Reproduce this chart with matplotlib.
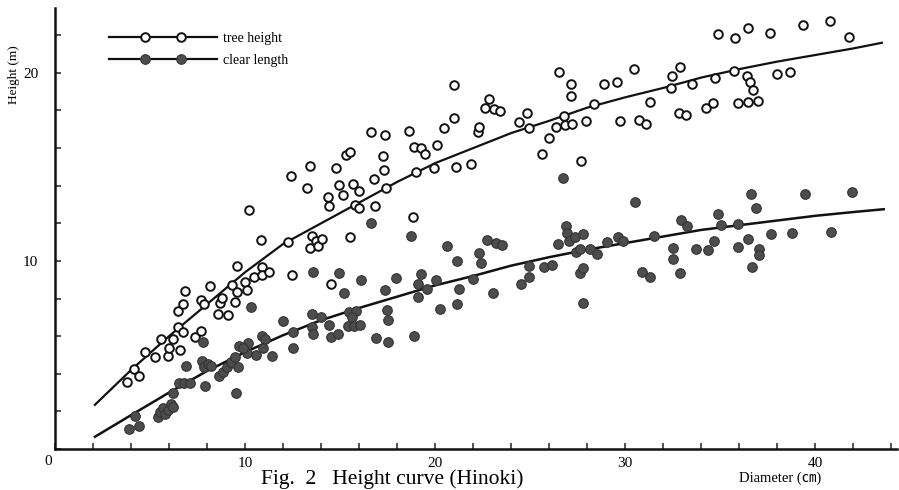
import numpy as np
import matplotlib
matplotlib.use("Agg")
import matplotlib.pyplot as plt
from matplotlib.lines import Line2D
from matplotlib.legend_handler import HandlerLine2D
from matplotlib.ticker import MultipleLocator

plt.rcParams["font.family"] = ["Liberation Serif", "Noto Sans CJK JP", "DejaVu Sans"]

# tree height (open circles): diameter (cm), height (m)
th_d = [3.81, 4.16, 4.44, 4.75, 5.28, 5.58, 5.95, 5.98, 6.21, 6.47, 6.56, 6.72, 6.49, 6.75,
        6.84, 7.37, 7.67, 7.67, 7.86, 8.14, 8.59, 8.70, 8.81, 9.09, 9.32, 9.49, 9.59, 9.59,
        9.98, 10.09, 10.46, 10.21, 10.84, 10.88, 10.91, 11.28,
        12.26, 12.40, 12.46, 13.25, 13.39, 13.44, 13.51, 13.72, 13.83, 14.04, 14.37, 14.39,
        14.51, 14.77, 14.93, 15.16, 15.30, 15.51, 15.53, 15.67, 15.81, 15.98, 15.98, 16.62,
        16.79, 16.83, 17.28, 17.30, 17.35, 17.42, 18.65, 18.81, 18.89, 19.00, 19.28, 19.49,
        19.93, 20.11, 20.49, 20.98, 21.00, 21.11, 21.91, 22.23, 22.30, 22.63, 22.84, 23.11,
        23.40,
        24.42, 24.84, 24.95, 25.61, 26.00, 26.38, 26.54, 26.77, 26.84, 27.14, 27.14, 27.19,
        27.68, 27.93, 28.38, 28.89, 29.58, 29.74, 30.47, 30.74, 31.12, 31.33, 32.42, 32.44,
        32.81, 32.88, 33.21, 33.54, 34.23, 34.61, 34.75,
        34.89, 35.77, 36.46, 37.60, 39.38, 40.77, 41.77, 35.74, 36.40, 36.58, 36.72, 38.00,
        38.65, 35.95, 36.46, 37.00]
th_h = [3.58, 4.26, 3.88, 5.14, 4.89, 5.85, 4.93, 5.39, 5.87, 6.49, 5.27, 6.24, 7.32, 7.71,
        8.40, 5.94, 6.29, 7.93, 7.71, 8.67, 7.18, 7.75, 8.02, 7.13, 8.72, 7.84, 8.35, 9.75,
        8.87, 8.46, 9.13, 12.70, 11.10, 9.66, 9.27, 9.40,
        10.99, 14.54, 9.27, 13.90, 10.71, 15.04, 11.35, 11.06, 10.80, 11.17, 13.42, 12.93,
        8.78, 14.95, 14.03, 13.49, 15.64, 11.29, 15.80, 14.10, 13.00, 13.72, 12.84, 16.85,
        14.35, 12.94, 15.60, 14.86, 16.70, 13.90, 16.93, 12.32, 16.08, 14.75, 15.99, 15.69,
        14.95, 16.17, 17.05, 17.62, 19.36, 15.02, 15.14, 16.88, 17.14, 18.12, 18.60, 18.09,
        17.95,
        17.41, 17.89, 17.07, 15.69, 16.54, 17.13, 20.05, 17.71, 17.23, 19.40, 18.79, 17.30,
        15.30, 17.46, 18.34, 19.43, 19.52, 17.45, 20.18, 17.52, 17.30, 18.47, 19.19, 19.82,
        17.87, 20.32, 17.77, 19.41, 18.15, 18.40, 19.75,
        22.07, 21.88, 22.41, 22.11, 22.57, 22.77, 21.91, 20.11, 19.86, 19.49, 19.11, 19.96,
        20.05, 18.42, 18.47, 18.53]

# clear length (filled circles)
cl_d = [3.89, 4.19, 4.44, 5.44, 5.55, 5.70, 5.79, 5.96, 6.10, 6.23, 6.23, 6.54, 6.81, 7.11,
        6.88, 7.88, 7.75, 7.81, 7.83, 8.04, 8.21, 8.65, 8.83, 9.04, 9.25, 9.47, 9.62, 9.68,
        10.14, 9.54, 10.32, 10.12, 10.56, 10.88, 11.07, 10.95, 11.42, 11.98, 12.51, 12.53,
        9.91,
        13.51, 13.98, 13.53, 13.60, 14.44, 14.53, 14.91, 15.47, 15.84, 15.61, 15.42, 15.74,
        16.05, 16.62, 13.60, 14.93, 16.09, 17.93, 19.23, 15.21, 17.37, 19.09, 20.05, 19.58,
        19.09, 21.25, 21.98, 23.05, 20.28, 21.17, 17.49, 17.51, 17.51, 18.91, 16.91, 18.74,
        20.63, 21.16, 22.33, 22.42, 22.74, 23.21,
        26.72, 30.53, 23.54, 24.54, 24.96, 24.96, 25.74, 26.14, 26.46, 26.88, 26.93, 27.05,
        27.37, 27.77, 27.42, 27.60, 28.16, 28.51, 27.63, 27.77, 27.77, 29.02, 29.63, 29.91,
        31.49, 30.89, 31.28, 32.51, 32.54, 32.89, 32.95, 33.25, 33.70,
        36.63, 39.46, 41.95, 36.89, 34.89, 35.04, 35.91, 34.67, 34.37, 35.91, 36.46, 37.67,
        38.80, 40.84, 37.02, 37.02, 36.67]
cl_h = [1.06, 1.74, 1.21, 1.72, 1.95, 2.16, 1.85, 2.07, 2.40, 2.25, 2.99, 3.53, 3.53, 3.53,
        4.43, 3.37, 4.68, 5.71, 4.38, 4.51, 4.43, 3.88, 4.11, 4.38, 4.64, 4.91, 4.38, 5.49,
        5.65, 2.99, 7.57, 5.09, 5.00, 6.01, 5.85, 5.39, 4.95, 6.82, 6.21, 5.39,
        5.39,
        7.16, 7.00, 6.51, 6.10, 6.58, 5.97, 6.10, 7.29, 7.34, 7.00, 6.56, 6.56,
        6.58, 12.04, 9.41, 9.38, 8.99, 9.08, 9.31, 8.30, 8.47, 8.78, 8.97, 8.49,
        8.10, 8.53, 9.06, 8.30, 7.43, 7.71, 7.39, 6.88, 5.68, 6.03, 5.92, 11.35,
        10.78, 10.00, 10.43, 9.89, 11.10, 10.94,
        14.40, 13.16, 10.85, 8.78, 9.17, 9.73, 9.70, 9.79, 10.89, 11.86, 11.47, 11.06,
        11.29, 11.44, 10.46, 10.62, 10.62, 10.36, 9.34, 9.61, 7.75, 11.03, 11.26, 11.08,
        11.35, 9.43, 9.13, 10.71, 10.12, 9.38, 12.18, 11.86, 10.64,
        13.56, 13.55, 13.65, 12.82, 12.50, 11.91, 11.95, 11.06, 10.59, 10.76, 11.15, 11.44,
        11.50, 11.54, 10.65, 10.30, 9.70]

# fitted height curves
th_curve_d = [2.1, 4, 6, 8, 10, 12, 14, 16, 18, 20, 22, 24, 26, 28, 30, 32, 34, 36, 38, 40, 42, 43.5]
th_curve_h = [2.35, 4.2, 6.0, 7.7, 9.4, 10.9, 12.0, 13.1, 14.2, 15.2, 16.0, 16.8, 17.45, 18.15,
              18.7, 19.2, 19.75, 20.2, 20.6, 20.95, 21.3, 21.6]
cl_curve_d = [2.1, 4, 6, 8, 10, 12, 14, 16, 18, 20, 22, 24, 26, 28, 30, 32, 34, 36, 38, 40, 42, 43.6]
cl_curve_h = [0.65, 1.8, 3.0, 4.15, 5.15, 6.05, 6.85, 7.5, 8.1, 8.7, 9.2, 9.75, 10.2, 10.6,
              10.95, 11.3, 11.65, 11.9, 12.15, 12.4, 12.6, 12.75]

OPEN = dict(marker="o", ms=6.2, mfc="white", mec="#111111", mew=1.4)
FILLED = dict(marker="o", ms=6.9, mfc="#4d4d4d", mec="#333333", mew=0.8)


class TwoMarkerLine(HandlerLine2D):
    # line across the whole handle, markers at 1/3 and 2/3
    def create_artists(self, legend, orig_handle, xdescent, ydescent, width, height,
                       fontsize, trans):
        xs = np.linspace(-xdescent, -xdescent + width, 4)
        ys = np.full_like(xs, (height - ydescent) / 2)
        line = Line2D(xs, ys, markevery=[1, 2])
        self.update_prop(line, orig_handle, legend)
        line.set_transform(trans)
        return [line]


fig = plt.figure(figsize=(8.99, 4.90), dpi=100)
ax = fig.add_axes([55 / 899, 41 / 490, 842 / 899, 441 / 490])

ax.plot(th_curve_d, th_curve_h, color="#111111", lw=1.6, zorder=2)
ax.plot(cl_curve_d, cl_curve_h, color="#111111", lw=1.8, zorder=2)
ax.plot(th_d, th_h, ls="none", zorder=3, **OPEN)
ax.plot(cl_d, cl_h, ls="none", zorder=3, **FILLED)

ax.set_xlim(0, 44.3)
ax.set_ylim(0, 23.45)
ax.set_xticks([10, 20, 30, 40])
ax.set_yticks([10, 20])
ax.xaxis.set_minor_locator(MultipleLocator(2))
ax.yaxis.set_minor_locator(MultipleLocator(2))
ax.tick_params(which="both", direction="in", length=4, width=1.1, color="#222222")
ax.tick_params(axis="x", labelsize=11, pad=6)
ax.tick_params(axis="y", labelsize=11, pad=12)
for s in ("top", "right"):
    ax.spines[s].set_visible(False)
for s in ("left", "bottom"):
    ax.spines[s].set_linewidth(1.8)
    ax.spines[s].set_color("#111111")
ax.annotate("0", xy=(0, 0), xycoords="axes fraction", xytext=(-5, -9),
            textcoords="offset points", ha="center", va="center", fontsize=11)

handles = [Line2D([], [], color="#111111", lw=1.6, **OPEN),
           Line2D([], [], color="#111111", lw=1.6, **FILLED)]
ax.legend(handles, ["tree height", "clear length"], handler_map={Line2D: TwoMarkerLine()},
          loc="upper left", bbox_to_anchor=(0.064, 0.945), frameon=False, fontsize=10,
          handlelength=7.8, handletextpad=0.45, labelspacing=0.6, borderpad=0,
          borderaxespad=0)

fig.text(14 / 899, 1 - 75 / 490, "Height (m)", rotation=90, ha="center", va="center",
         fontsize=9.5)
fig.text(780 / 899, 1 - 478 / 490, "Diameter (㎝)", ha="center", va="center", fontsize=10.5)
fig.text(392 / 899, 0.003, "Fig.  2   Height curve (Hinoki)", ha="center", va="bottom",
         fontsize=15.5)

fig.savefig("out.png", dpi=100)
